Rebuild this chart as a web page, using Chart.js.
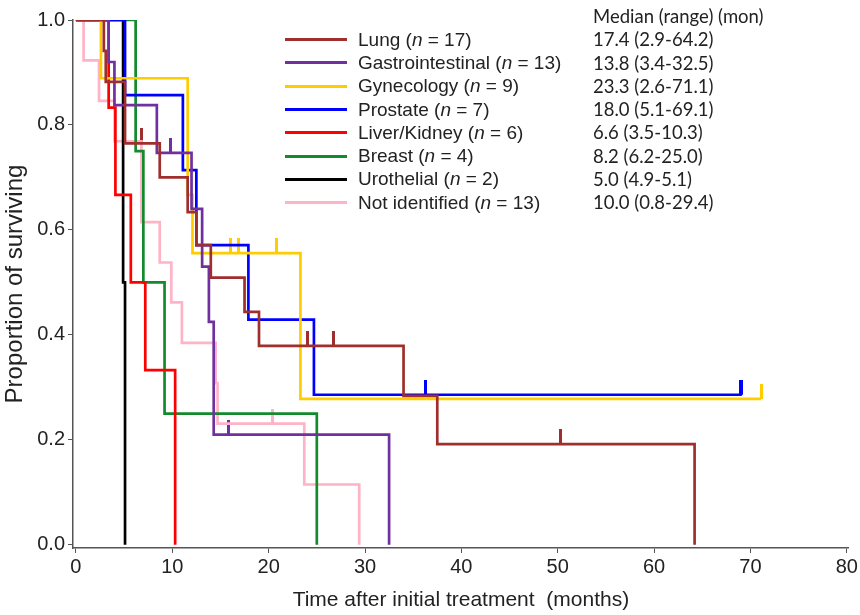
<!DOCTYPE html>
<html>
<head>
<meta charset="utf-8">
<script src="https://cdn.jsdelivr.net/npm/chart.js@4.4.1/dist/chart.umd.min.js"></script>
<style>
  body { margin: 0; background: #fff; }
  #wrap { position: relative; width: 860px; height: 615px; }
  #legend { position: absolute; left: 285px; top: 28px; font-family: "Liberation Sans", Arial, sans-serif; font-size: 19px; color: #222; }
  .row { height: 23.3px; display: flex; align-items: center; white-space: nowrap; }
  .swatch { width: 62px; height: 3px; margin-right: 11px; }
  #medians { position: absolute; left: 593px; top: 5px; font-family: Lato, sans-serif; font-size: 18.5px; color: #222; }
  #medians div { height: 23.3px; line-height: 23.3px; white-space: nowrap; }
</style>
</head>
<body>
<div id="wrap">
  <canvas id="km"></canvas>
  <div id="legend"></div>
  <div id="medians"></div>
</div>
<script>
// groups, in legend order
const groupNames = ['Lung', 'Gastrointestinal', 'Gynecology', 'Prostate', 'Liver/Kidney', 'Breast', 'Urothelial', 'Not identified'];
const groupN = [17, 13, 9, 7, 6, 4, 2, 13];
const groupColors = ['#9e2f2d', '#7030a0', '#ffcc00', '#0000ff', '#ff0000', '#138a2c', '#000000', '#ffb3c6'];
const medianMonths = ['17.4', '13.8', '23.3', '18.0', '6.6', '8.2', '5.0', '10.0'];
const medianRanges = ['2.9-64.2', '3.4-32.5', '2.6-71.1', '5.1-69.1', '3.5-10.3', '6.2-25.0', '4.9-5.1', '0.8-29.4'];

// Kaplan-Meier steps (months, proportion surviving)
const lungTimes = [0, 2.9, 3.1, 5.1, 8.7, 11.6, 12.5, 14.0, 17.5, 19.0, 34.0, 37.5, 64.2];
const lungSurv = [1, 0.941, 0.882, 0.765, 0.70, 0.634, 0.571, 0.509, 0.444, 0.379, 0.284, 0.192, 0];
const lungCensor = [6.8, 24.0, 26.7, 50.3];

const giTimes = [0, 3.4, 4.0, 8.4, 12.0, 13.1, 13.8, 14.3, 32.5];
const giSurv = [1, 0.92, 0.838, 0.747, 0.64, 0.53, 0.425, 0.21, 0];
const giCensor = [9.8, 15.8];

const gynTimes = [0, 2.6, 11.6, 12.1, 23.3, 71.1];
const gynSurv = [1, 0.889, 0.667, 0.556, 0.278, 0.278];
const gynCensor = [16.0, 16.9, 20.8, 71.1];

const prostateTimes = [0, 5.1, 11.1, 12.5, 17.9, 24.7, 69.1];
const prostateSurv = [1, 0.857, 0.714, 0.571, 0.429, 0.286, 0.286];
const prostateCensor = [36.3, 69.0, 69.1];

const liverTimes = [0, 3.4, 4.1, 5.7, 7.2, 10.3];
const liverSurv = [1, 0.833, 0.667, 0.5, 0.333, 0];
const liverCensor = [];

const breastTimes = [0, 6.2, 7.0, 9.2, 25.0];
const breastSurv = [1, 0.75, 0.5, 0.25, 0];
const breastCensor = [];

const uroTimes = [0, 4.9, 5.1];
const uroSurv = [1, 0.5, 0];
const uroCensor = [];

const otherTimes = [0, 0.8, 2.4, 4.0, 6.8, 8.7, 9.9, 11.0, 14.5, 14.7, 23.7, 29.4];
const otherSurv = [1, 0.923, 0.846, 0.769, 0.615, 0.538, 0.462, 0.385, 0.308, 0.231, 0.115, 0];
const otherCensor = [20.4];

const xTicks = [0, 10, 20, 30, 40, 50, 60, 70, 80];
const yTicks = [0, 0.2, 0.4, 0.6, 0.8, 1.0];

const allTimes = [lungTimes, giTimes, gynTimes, prostateTimes, liverTimes, breastTimes, uroTimes, otherTimes];
const allSurv = [lungSurv, giSurv, gynSurv, prostateSurv, liverSurv, breastSurv, uroSurv, otherSurv];
const allCensor = [lungCensor, giCensor, gynCensor, prostateCensor, liverCensor, breastCensor, uroCensor, otherCensor];

// survival value of a step curve at time t
function survAt(times, surv, t) {
  let v = surv[0];
  for (let k = 0; k < times.length; k++) if (times[k] <= t) v = surv[k];
  return v;
}

// censor mark: short upright tick sitting on the curve
function tickMark(color) {
  const c = document.createElement('canvas');
  c.width = 3; c.height = 30;
  const g = c.getContext('2d');
  g.fillStyle = color;
  g.fillRect(0, 0, 3, 15);
  return c;
}

const datasets = [];
groupNames.forEach((name, i) => {
  datasets.push({
    label: name,
    data: allTimes[i].map((t, k) => ({ x: t, y: allSurv[i][k] })),
    borderColor: groupColors[i],
    borderWidth: 2.7,
    stepped: true,
    showLine: true,
    pointRadius: 0,
    fill: false
  });
});
groupNames.forEach((name, i) => {
  if (!allCensor[i].length) return;
  datasets.push({
    label: name + ' censored',
    data: allCensor[i].map(t => ({ x: t, y: survAt(allTimes[i], allSurv[i], t) })),
    showLine: false,
    pointStyle: tickMark(groupColors[i]),
    pointRadius: 8
  });
});

const axisColor = '#555';
const tickFont = { family: '"Liberation Sans", Arial, sans-serif', size: 20 };

new Chart(document.getElementById('km'), {
  type: 'scatter',
  data: { datasets: datasets },
  options: {
    responsive: true,
    maintainAspectRatio: false,
    animation: false,
    layout: { padding: { top: 20, right: 7, left: 0, bottom: 0 } },
    scales: {
      x: {
        type: 'linear',
        min: -0.3,
        max: 80.2,
        afterFit: s => { s.height = 67; },
        afterBuildTicks: s => { s.ticks = xTicks.map(v => ({ value: v })); },
        grid: { drawOnChartArea: false, drawTicks: true, tickLength: 5, color: axisColor },
        border: { display: true, color: axisColor, width: 1.5 },
        ticks: { color: '#222', font: tickFont, padding: 2, maxRotation: 0 },
        title: { display: true, text: 'Time after initial treatment  (months)', color: '#222', font: { family: '"Liberation Sans", Arial, sans-serif', size: 21 }, padding: { top: 4, bottom: 2 } }
      },
      y: {
        type: 'linear',
        min: -0.006,
        max: 1.0,
        afterFit: s => { s.width = 73; },
        afterBuildTicks: s => { s.ticks = yTicks.map(v => ({ value: v })); },
        grid: { drawOnChartArea: false, drawTicks: true, tickLength: 5, color: axisColor },
        border: { display: true, color: axisColor, width: 1.5 },
        ticks: { color: '#222', font: tickFont, padding: 3, callback: v => v.toFixed(1) },
        title: { display: true, text: 'Proportion of surviving', color: '#222', font: { family: '"Liberation Sans", Arial, sans-serif', size: 24 }, padding: { top: 1, bottom: 1 } }
      }
    },
    plugins: {
      legend: { display: false },
      tooltip: { enabled: false }
    }
  }
});

// legend and median table as page text
const legend = document.getElementById('legend');
groupNames.forEach((name, i) => {
  const row = document.createElement('div');
  row.className = 'row';
  row.innerHTML = '<span class="swatch" style="background:' + groupColors[i] + '"></span>' +
    '<span>' + name + ' (<i>n</i> = ' + groupN[i] + ')</span>';
  legend.appendChild(row);
});
const medians = document.getElementById('medians');
medians.innerHTML = '<div>Median (range) (mon)</div>' +
  medianMonths.map((m, i) => '<div>' + m + ' (' + medianRanges[i] + ')</div>').join('');
</script>
</body>
</html>
